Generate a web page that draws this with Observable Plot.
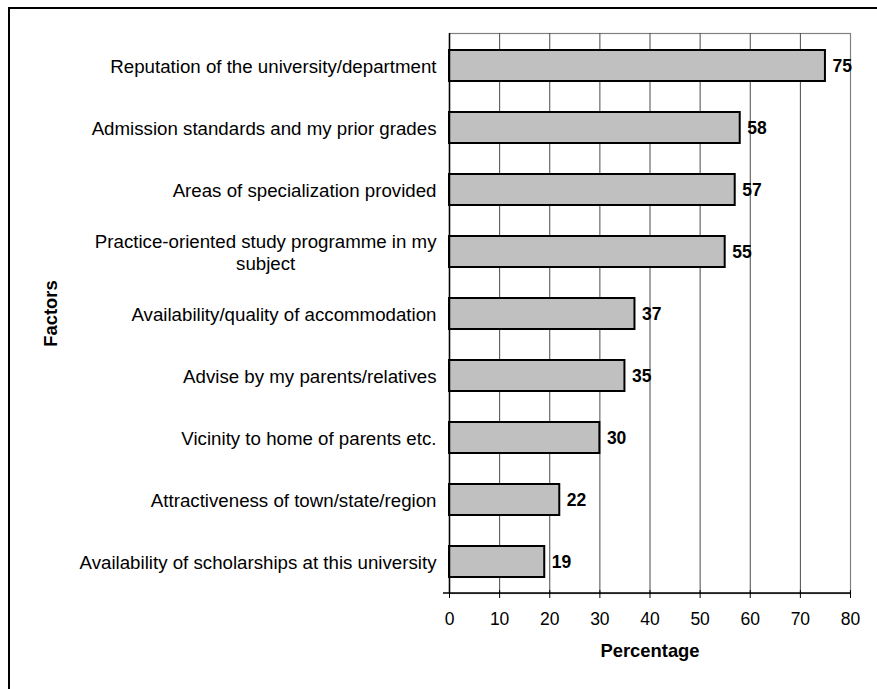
<!DOCTYPE html>
<html>
<head>
<meta charset="utf-8">
<script src="https://cdn.jsdelivr.net/npm/d3@7"></script>
<script src="https://cdn.jsdelivr.net/npm/@observablehq/plot@0.6"></script>
<style>
  html, body { margin: 0; padding: 0; background: #fff; }
  #frame { position: absolute; left: 8px; top: 7px; width: 869px; height: 682px;
           border-left: 2px solid #000; border-top: 2px solid #000; box-sizing: border-box; }
  #chart { position: absolute; left: 0; top: 0; }
</style>
</head>
<body>
<div id="frame"></div>
<div id="chart"></div>
<script>
const factors = [
  "Reputation of the university/department",
  "Admission standards and my prior grades",
  "Areas of specialization provided",
  "Practice-oriented study programme in my\nsubject",
  "Availability/quality of accommodation",
  "Advise by my parents/relatives",
  "Vicinity to home of parents etc.",
  "Attractiveness of town/state/region",
  "Availability of scholarships at this university"
];
const percentages = [75, 58, 57, 55, 37, 35, 30, 22, 19];
const xTicks = [0, 10, 20, 30, 40, 50, 60, 70, 80];
const xTitle = "Percentage";
const yTitle = "Factors";

const data = factors.map((f, i) => ({factor: f, value: percentages[i]}));
const font = "'Liberation Sans', Arial, Helvetica, sans-serif";

const chart = Plot.plot({
  width: 877,
  height: 689,
  marginLeft: 449,
  marginRight: 27,
  marginTop: 33,
  marginBottom: 96,
  style: {fontFamily: font, fontSize: "18px", color: "#000", background: "transparent"},
  x: {domain: [0, 80], ticks: xTicks, label: null},
  y: {domain: factors, paddingInner: 0.5, paddingOuter: 0.25, label: null},
  marks: [
    Plot.frame({stroke: "#808080", strokeWidth: 1.2}),
    Plot.gridX(xTicks.slice(1, -1), {stroke: "#4a4a4a", strokeOpacity: 1, strokeWidth: 1}),
    Plot.barX(data, {x: "value", y: "factor", fill: "#c0c0c0", stroke: "#000", strokeWidth: 2}),
    Plot.ruleX([0], {stroke: "#000", strokeWidth: 1.5}),
    Plot.text(data, {x: "value", y: "factor", text: d => String(d.value), textAnchor: "start", dx: 7,
      fontWeight: "bold", fontSize: 17.5, fill: "#000"}),
    Plot.axisX(xTicks, {anchor: "bottom", tickSize: 8, dy: -3, tickPadding: 14, fontSize: 17.5, label: null}),
    Plot.axisY({anchor: "left", tickSize: 0, tickPadding: 13, fontSize: 18.7, lineHeight: 1.18, label: null}),
    Plot.text([xTitle], {frameAnchor: "bottom", textAnchor: "middle", dy: 63, fontWeight: "bold", fontSize: 18.4, fill: "#000"}),
    Plot.text([yTitle], {frameAnchor: "left", textAnchor: "middle", dx: -398, rotate: -90, fontWeight: "bold", fontSize: 18.4, fill: "#000"})
  ]
});

document.getElementById("chart").appendChild(chart);

// bottom axis line (extends slightly left of the y axis, as in the reference)
const xs = chart.scale("x");
const yBottom = 689 - 96;
d3.select(chart).append("line")
  .attr("x1", xs.apply(0) - 6).attr("x2", xs.apply(80))
  .attr("y1", yBottom).attr("y2", yBottom)
  .attr("stroke", "#000").attr("stroke-width", 1.5);

// center the lines of wrapped category labels, as in the reference
chart.querySelectorAll('g[aria-label="y-axis tick label"] text').forEach(t => {
  const spans = t.querySelectorAll("tspan");
  if (spans.length > 1) {
    let maxW = 0;
    spans.forEach(s => { maxW = Math.max(maxW, s.getComputedTextLength()); });
    t.setAttribute("text-anchor", "middle");
    spans.forEach(s => s.setAttribute("x", -maxW / 2));
  }
});
</script>
</body>
</html>
